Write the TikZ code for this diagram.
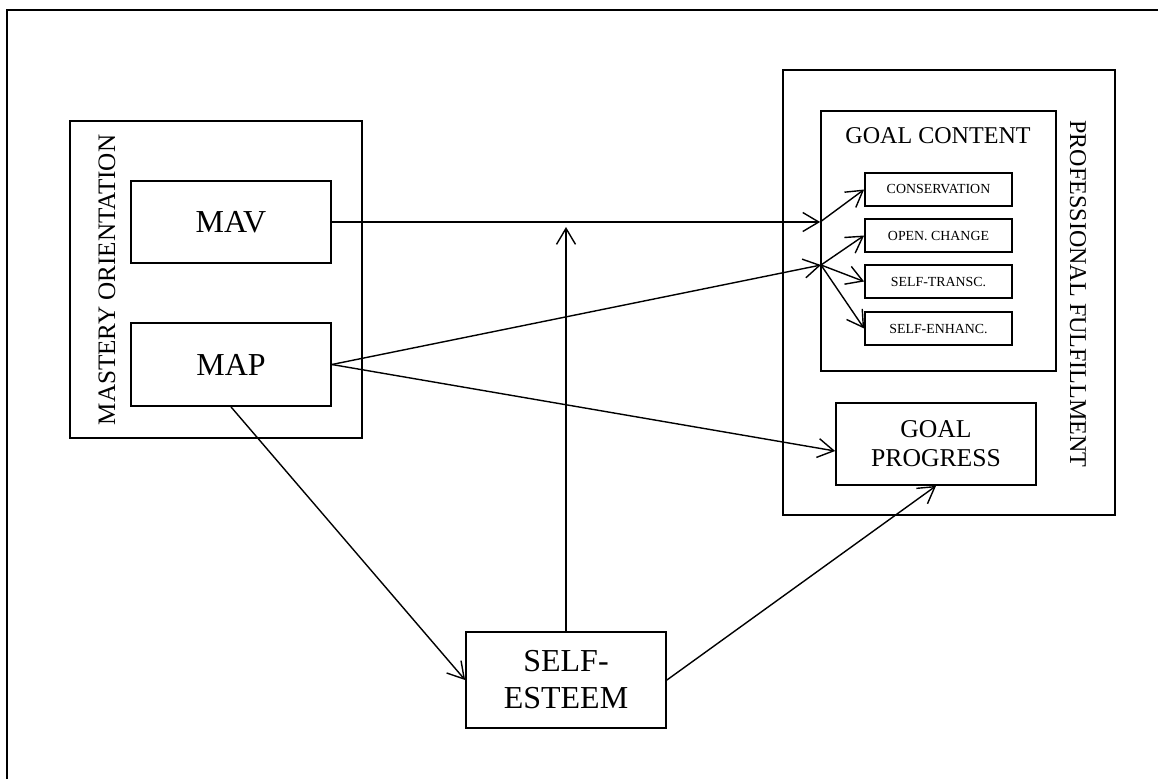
\documentclass[tikz,border=0pt]{standalone}
\usepackage{fontspec}
\setmainfont{Liberation Serif}
\usetikzlibrary{arrows.meta}

\begin{document}
\begin{tikzpicture}[->,>={Straight Barb[length=3.2mm,width=3.8mm]},line width=0.8pt]
    \tikzstyle{box}=[draw,rectangle,inner sep=0pt,line width=1pt]
    \tikzstyle{big box}=[box,minimum width=4cm,align=center,font=\fontsize{18.2}{21}\selectfont]
    \tikzstyle{mid box}=[box,minimum width=4cm,minimum height=1.64cm,align=center,font=\fontsize{14.6}{16.5}\selectfont]
    \tikzstyle{value box}=[box,minimum width=2.94cm,minimum height=0.66cm,font=\fontsize{7.9}{9}\selectfont]
    \tikzstyle{annot}=[font=\fontsize{14.3}{16}\selectfont]

    \useasboundingbox (0,0) rectangle (23.16,-15.58);
    % outer frame (cut off at right and bottom)
    \draw[-,line width=1pt] (0.14,-15.58) -- (0.14,-0.20) -- (23.16,-0.20);

    % Mastery orientation block
    \node[box,minimum width=5.84cm,minimum height=6.34cm] (MO) at (4.32,-5.59) {};
    \node[annot,rotate=90] (MO-label) at (2.14,-5.6) {MASTERY ORIENTATION};
    \node[big box,minimum height=1.64cm] (MAV) at (4.62,-4.44) {MAV};
    \node[big box,minimum height=1.66cm] (MAP) at (4.62,-7.29) {MAP};

    % Professional fulfillment block
    \node[box,minimum width=6.64cm,minimum height=8.9cm] (PF) at (18.98,-5.85) {};
    \node[annot,rotate=-90,font=\fontsize{13.7}{16}\selectfont] (PF-label) at (21.56,-5.88) {PROFESSIONAL FULFILLMENT};
    \node[box,minimum width=4.70cm,minimum height=5.20cm] (GC) at (18.77,-4.82) {};
    \node[annot,font=\fontsize{13.7}{16}\selectfont] (GC-label) at (18.76,-2.72) {GOAL CONTENT};
    \node[value box] (CO) at (18.77,-3.79) {CONSERVATION};
    \node[value box] (OC) at (18.77,-4.71) {OPEN. CHANGE};
    \node[value box] (ST) at (18.77,-5.63) {SELF-TRANSC.};
    \node[value box] (SEH) at (18.77,-6.57) {SELF-ENHANC.};
    \node[mid box] (GP) at (18.72,-8.88) {GOAL\\PROGRESS};

    \node[big box,minimum height=1.92cm] (SE) at (11.32,-13.60) {SELF-\\ESTEEM};

    % Junctions on the goal content box
    \coordinate (J-1) at (GC.west |- MAV.east);
    \coordinate (J-2) at (16.42,-5.30);
    \coordinate (UP) at (SE.north |- 0,-4.54);

    \path (MAV.east) edge (J-1);
    \path (J-1) edge (CO.west);
    \path (MAP.east) edge (J-2);
    \path (J-2) edge (OC.west);
    \path (J-2) edge (ST.west);
    \path (J-2) edge (SEH.west);
    \path (MAP.east) edge ([yshift=-0.14cm]GP.west);
    \path (MAP.south) edge (SE.west);
    \path (SE.north) edge (UP);
    \path (SE.east) edge (GP.south);
\end{tikzpicture}
\end{document}
